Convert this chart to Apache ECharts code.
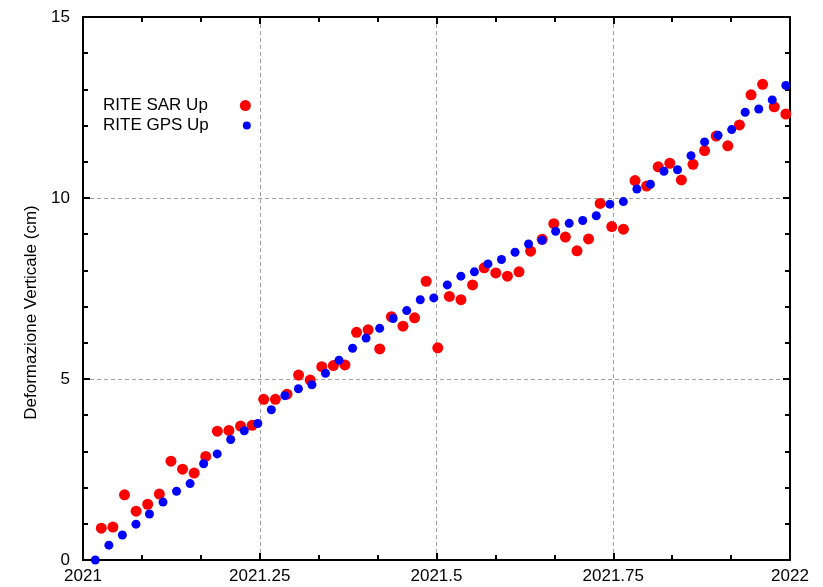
<!DOCTYPE html>
<html>
<head>
<meta charset="utf-8">
<script src="https://cdn.jsdelivr.net/npm/echarts@6/dist/echarts.min.js"></script>
<style>
  html, body { margin: 0; padding: 0; background: #ffffff; }
  #chart { width: 823px; height: 587px; }
</style>
</head>
<body>
<div id="chart"></div>
<script>
// Axis ticks
const xTicks = [2021, 2021.25, 2021.5, 2021.75, 2022];
const yTicks = [0, 5, 10, 15];

// Series names
const sarName = 'RITE SAR Up';
const gpsName = 'RITE GPS Up';

// SAR acquisitions (decimal year) and vertical displacement (cm)
const sarYears = [
  2021.0259, 2021.0423, 2021.0587, 2021.0751, 2021.0915, 2021.1080, 2021.1244, 2021.1408, 2021.1572, 2021.1736,
  2021.1900, 2021.2064, 2021.2228, 2021.2392, 2021.2556, 2021.2721, 2021.2885, 2021.3049, 2021.3213, 2021.3377,
  2021.3541, 2021.3705, 2021.3869, 2021.4033, 2021.4197, 2021.4362, 2021.4526, 2021.4690, 2021.4854, 2021.5018,
  2021.5182, 2021.5346, 2021.5510, 2021.5674, 2021.5838, 2021.6003, 2021.6167, 2021.6331, 2021.6495, 2021.6659,
  2021.6823, 2021.6987, 2021.7151, 2021.7315, 2021.7479, 2021.7644, 2021.7808, 2021.7972, 2021.8136, 2021.8300,
  2021.8464, 2021.8628, 2021.8792, 2021.8956, 2021.9120, 2021.9285, 2021.9449, 2021.9613, 2021.9777, 2021.9941
];
const sarUp = [
  0.88, 0.91, 1.80, 1.35, 1.54, 1.82, 2.73, 2.51, 2.40, 2.86,
  3.56, 3.58, 3.70, 3.72, 4.44, 4.44, 4.58, 5.11, 4.97, 5.34,
  5.37, 5.39, 6.29, 6.36, 5.83, 6.72, 6.46, 6.69, 7.70, 5.86,
  7.28, 7.19, 7.60, 8.07, 7.93, 7.84, 7.96, 8.53, 8.86, 9.29,
  8.92, 8.54, 8.87, 9.85, 9.21, 9.14, 10.48, 10.33, 10.86, 10.96,
  10.50, 10.93, 11.31, 11.71, 11.44, 12.02, 12.85, 13.14, 12.52, 12.32
];

// GPS weekly solutions (decimal year) and vertical displacement (cm)
const gpsYears = [
  2021.0174, 2021.0366, 2021.0557, 2021.0749, 2021.0940, 2021.1132, 2021.1323, 2021.1515, 2021.1706, 2021.1898,
  2021.2089, 2021.2281, 2021.2472, 2021.2664, 2021.2855, 2021.3047, 2021.3238, 2021.3430, 2021.3621, 2021.3813,
  2021.4004, 2021.4196, 2021.4387, 2021.4579, 2021.4770, 2021.4962, 2021.5153, 2021.5345, 2021.5536, 2021.5728,
  2021.5919, 2021.6111, 2021.6302, 2021.6494, 2021.6685, 2021.6877, 2021.7068, 2021.7260, 2021.7451, 2021.7643,
  2021.7834, 2021.8026, 2021.8217, 2021.8409, 2021.8600, 2021.8792, 2021.8983, 2021.9175, 2021.9366, 2021.9558,
  2021.9749, 2021.9941
];
const gpsUp = [
  0.00, 0.41, 0.69, 0.99, 1.27, 1.60, 1.90, 2.11, 2.66, 2.93,
  3.33, 3.57, 3.77, 4.15, 4.54, 4.73, 4.84, 5.16, 5.52, 5.85,
  6.13, 6.40, 6.67, 6.89, 7.19, 7.24, 7.60, 7.84, 7.96, 8.18,
  8.30, 8.50, 8.73, 8.83, 9.08, 9.30, 9.38, 9.51, 9.83, 9.90,
  10.25, 10.38, 10.74, 10.78, 11.17, 11.55, 11.73, 11.89, 12.37, 12.46,
  12.71, 13.11
];

const FONT = "'Liberation Sans', Arial, Helvetica, sans-serif";
const sarColor = '#ff0000';
const gpsColor = '#0000ff';

const xMin = xTicks[0], xMax = xTicks[xTicks.length - 1], xStep = xTicks[1] - xTicks[0];
const yMin = yTicks[0], yMax = yTicks[yTicks.length - 1], yStep = yTicks[1] - yTicks[0];

// Shared look of the four frame axes: black border, inward ticks
function frameAxis(extra) {
  return Object.assign({
    type: 'value',
    axisLine: { show: true, onZero: false, lineStyle: { color: '#000', width: 2 } },
    axisTick: { show: true, inside: true, length: 7, lineStyle: { color: '#000', width: 2 } },
    axisLabel: { show: false },
    splitLine: { show: false }
  }, extra);
}

const chart = echarts.init(document.getElementById('chart'), null, { renderer: 'canvas' });

chart.setOption({
  animation: false,
  backgroundColor: '#ffffff',
  grid: { left: 83, right: 33, top: 17, bottom: 27, containLabel: false },
  xAxis: [
    frameAxis({
      position: 'bottom',
      min: xMin, max: xMax, interval: xStep,
      minorTick: { show: true, splitNumber: 3, length: 5, lineStyle: { color: '#000', width: 2 } },
      axisLabel: {
        show: true, margin: 8, color: '#000', fontFamily: FONT, fontSize: 17,
        formatter: v => String(Number(v.toFixed(2)))
      },
      splitLine: { show: true, lineStyle: { color: '#a0a0a0', width: 1, type: [4, 3] } }
    }),
    frameAxis({
      position: 'top',
      min: xMin, max: xMax, interval: xStep,
      minorTick: { show: true, splitNumber: 3, length: 5, lineStyle: { color: '#000', width: 2 } }
    })
  ],
  yAxis: [
    frameAxis({
      position: 'left',
      min: yMin, max: yMax, interval: yStep,
      minorTick: { show: true, splitNumber: 5, length: 5, lineStyle: { color: '#000', width: 2 } },
      axisLabel: { show: true, margin: 13, color: '#000', fontFamily: FONT, fontSize: 17 },
      splitLine: { show: true, lineStyle: { color: '#a0a0a0', width: 1, type: [4, 3] } },
      name: 'Deformazione Verticale (cm)',
      nameLocation: 'middle',
      nameGap: 42,
      nameTextStyle: { color: '#000', fontFamily: FONT, fontSize: 17, padding: [0, 48, 0, 0] }
    }),
    frameAxis({
      position: 'right',
      min: yMin, max: yMax, interval: yStep,
      minorTick: { show: true, splitNumber: 5, length: 5, lineStyle: { color: '#000', width: 2 } }
    })
  ],
  legend: [
    {
      data: [sarName], orient: 'vertical', align: 'right',
      left: 103, top: 97, padding: 0,
      icon: 'circle', itemWidth: 11, itemHeight: 11,
      textStyle: { color: '#000', fontFamily: FONT, fontSize: 17, padding: [0, 27, 0, 0] },
      selectedMode: false
    },
    {
      data: [gpsName], orient: 'vertical', align: 'right',
      left: 103, top: 117, padding: 0,
      icon: 'circle', itemWidth: 8, itemHeight: 8,
      textStyle: { color: '#000', fontFamily: FONT, fontSize: 17, padding: [0, 29, 0, 0] },
      selectedMode: false
    }
  ],
  series: [
    {
      name: sarName,
      type: 'scatter',
      symbol: 'circle',
      symbolSize: 11,
      itemStyle: { color: sarColor, opacity: 1 },
      data: sarYears.map((t, i) => [t, sarUp[i]]),
      z: 2
    },
    {
      name: gpsName,
      type: 'scatter',
      symbol: 'circle',
      symbolSize: 9,
      itemStyle: { color: gpsColor, opacity: 1 },
      data: gpsYears.map((t, i) => [t, gpsUp[i]]),
      z: 3
    }
  ]
});
</script>
</body>
</html>
